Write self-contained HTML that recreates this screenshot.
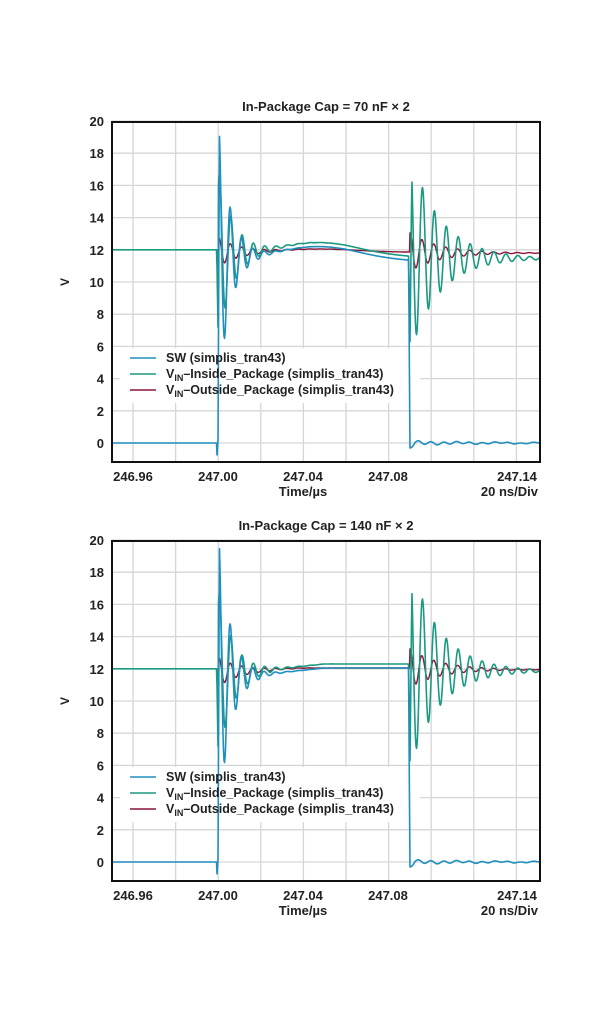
<!DOCTYPE html>
<html><head><meta charset="utf-8">
<style>
body{margin:0;background:#fff;width:600px;height:1021px;overflow:hidden;font-family:"Liberation Sans",sans-serif;}
svg text{font-family:"Liberation Sans",sans-serif;font-weight:bold;fill:#222;}
</style></head>
<body>
<svg id="s" width="600" height="1021" xmlns="http://www.w3.org/2000/svg"></svg>
<script>
const S=document.getElementById('s');
let h='';
function P(pts,col,w){return '<polyline fill="none" stroke="'+col+'" stroke-width="'+w+'" stroke-linejoin="round" points="'+pts.map(p=>p[0].toFixed(1)+','+p[1].toFixed(1)).join(' ')+'"/>';}
function plot(oy,title,k){
 const L=112,R=540,T=122+oy,B=462+oy;
 const X=t=>218+t*2.13, Y=v=>443+oy-v*16.1;
 h+='<text x="326" y="'+(111+oy)+'" font-size="13" text-anchor="middle">'+title+'</text>';
 for(let i=0;i<10;i++){const x=133+i*42.6;h+='<line x1="'+x+'" y1="'+T+'" x2="'+x+'" y2="'+B+'" stroke="#d6d6d6" stroke-width="1.3"/>';}
 for(let v=0;v<=20;v+=2){const y=Y(v);h+='<line x1="'+L+'" y1="'+y+'" x2="'+R+'" y2="'+y+'" stroke="#d6d6d6" stroke-width="1.3"/>';
  h+='<text x="104" y="'+(y+5)+'" font-size="13" text-anchor="end">'+v+'</text>';}
 h+='<rect x="120" y="'+(348+oy)+'" width="300" height="55" fill="#fff"/>';
 h+='<text transform="translate(69,'+(282+oy)+') rotate(-90)" font-size="12" text-anchor="middle">V</text>';
 const labs=[[133,'246.96'],[218,'247.00'],[303,'247.04'],[388,'247.08'],[517,'247.14']];
 labs.forEach(l=>h+='<text x="'+l[0]+'" y="'+(481+oy)+'" font-size="13" text-anchor="middle">'+l[1]+'</text>');
 h+='<text x="303" y="'+(496+oy)+'" font-size="13" text-anchor="middle">Time/µs</text>';
 h+='<text x="538" y="'+(496+oy)+'" font-size="13" text-anchor="end">20 ns/Div</text>';
 const sw=[],gi=[],ro=[];
 const t1=89.5;
 function base(t){
  if(k==0){return 11.6+0.7*Math.exp(-Math.pow((t-47)/25,2)) - (t>60?(t-60)*0.006:0);}
  return 11.6+0.55*Math.min(1,Math.max(0,(t-10)/40));
 }
 function redb(t){
  if(k==0)return 11.85+0.2*Math.exp(-Math.pow((t-47)/25,2));
  return 11.8+0.25*Math.min(1,Math.max(0,t/40));
 }
 for(let x=L;x<=R;x+=0.5){
  const t=(x-218)/2.13;let s,g,r;
  if(t<-0.6){s=0;g=12;r=12;}
  else if(t<t1){
   const tt=t+0.6;const bb=base(t);
   if(tt<0.8){s=-1+tt*2;g=12-tt*8;r=12-tt*1.2;}
   else{
    const ph=2*Math.PI*(tt-0.8)/5.3;
    const a1=(k==0?8.5:9)*Math.exp(-(tt-0.8)/5.5);
    s=bb-0.1+a1*Math.cos(ph-0.35);
    const a2=4.1*Math.exp(-(tt-0.8)/7);
    g=bb+0.15+a2*Math.sin(ph+0.9)*1.3;
    const a3=0.9*Math.exp(-(tt-0.8)/10);
    r=redb(t)+a3*Math.sin(ph+1.2);
    if(tt<2){s=Math.min(s,bb-6+(tt-0.8)*30);}
   }
  } else {
   const tt=t-t1;
   const rb=redb(t1);
   if(tt<0.6){s=11.4-tt*19;g=base(t1)+0.15-tt*9;r=rb;}
   else{
    s=-0.12*Math.exp(-tt/40)*Math.sin(2*Math.PI*tt/6)+0.03*Math.sin(tt/3);
    if(tt<3)s-=0.25*(3-tt)/2.4;
    const ph=2*Math.PI*(tt-0.6)/5.6;
    const fin=(k==0?11.45:11.85);
    const a=(k==0?6.3:6.4)*Math.exp(-(tt-0.6)/14);
    g=fin+0.4*Math.exp(-tt/20)+a*Math.sin(ph+1.2);
    if(tt<1.6)g=Math.min(g,5.8+(tt-0.6)*12);
    const a3=1.2*Math.exp(-(tt-0.6)/14);
    const rf=(k==0?11.8:11.95);
    r=rf+(rb-rf)*Math.exp(-tt/15)+a3*Math.sin(ph+1.5);
   }
  }
  if(t>t1-0.6&&t<t1){s=base(t1)-0.1;}
  sw.push([x,Y(s)]);gi.push([x,Y(g)]);ro.push([x,Y(r)]);
 }
 h+=P(ro,'#8a1538',1.4);
 h+=P(gi,'#1a9a80',1.6);
 h+=P(sw,'#1f8fc0',1.6);
 h+='<rect x="'+L+'" y="'+T+'" width="'+(R-L)+'" height="'+(B-T)+'" fill="none" stroke="#111" stroke-width="2"/>';
 const ly=[362,378,394].map(v=>v+oy);
 const lc=['#1f8fc0','#1a9a80','#8a1538'];
 for(let i=0;i<3;i++)h+='<line x1="130" y1="'+(ly[i]-4)+'" x2="156" y2="'+(ly[i]-4)+'" stroke="'+lc[i]+'" stroke-width="1.6"/>';
 h+='<text x="166" y="'+ly[0]+'" font-size="12.5">SW (simplis_tran43)</text>';
 h+='<text x="166" y="'+ly[1]+'" font-size="12.5">V<tspan font-size="9" dy="3">IN</tspan><tspan dy="-3">–Inside_Package (simplis_tran43)</tspan></text>';
 h+='<text x="166" y="'+ly[2]+'" font-size="12.5">V<tspan font-size="9" dy="3">IN</tspan><tspan dy="-3">–Outside_Package (simplis_tran43)</tspan></text>';
}
plot(0,'In-Package Cap = 70 nF × 2',0);
plot(419,'In-Package Cap = 140 nF × 2',1);
S.innerHTML=h;
</script>
</body></html>
